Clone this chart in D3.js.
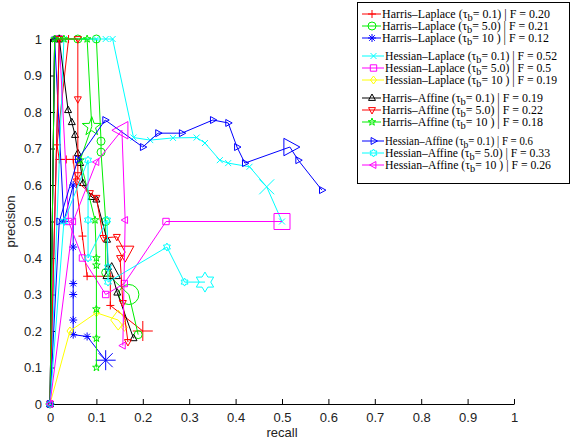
<!DOCTYPE html>
<html>
<head>
<meta charset="utf-8">
<script src="https://cdn.jsdelivr.net/npm/d3@7"></script>
<style>
  body { margin: 0; background: #fff; }
  svg { display: block; }
  .tick text { font-family: "Liberation Sans", Arial, sans-serif; font-size: 13px; fill: #222; }
</style>
</head>
<body>
<div id="chart"></div>
<script>
// recall / precision pairs for each detector
const harrisLaplace01 = [[0,0],[0.01,1],[0.04,1],[0.015,0.71],[0.02,0.67],[0.035,0.67],[0.05,0.67],[0.07,0.46],[0.08,0.35],[0.13,0.35],[0.13,0.27],[0.2,0.2]];
const harrisLaplace5 = [[0,0],[0.02,1],[0.06,1],[0.1,1],[0.11,0.72],[0.11,0.69],[0.12,0.5],[0.12,0.36],[0.17,0.3],[0.19,0.19]];
const harrisLaplace10 = [[0,0],[0.01,1],[0.03,0.5],[0.05,0.6],[0.05,0.43],[0.05,0.33],[0.05,0.3],[0.05,0.23],[0.05,0.19],[0.08,0.185],[0.12,0.12]];
const hessianLaplace01 = [[0,0],[0.03,1],[0.1,1],[0.12,1],[0.135,1],[0.18,0.73],[0.216,0.723],[0.265,0.729],[0.316,0.73],[0.334,0.715],[0.366,0.668],[0.384,0.66],[0.43,0.65],[0.467,0.595],[0.5,0.5]];
const hessianLaplace5 = [[0,0],[0.02,1],[0.04,0.5],[0.07,0.4],[0.12,0.3],[0.16,0.33],[0.25,0.5],[0.5,0.5]];
const hessianLaplace10 = [[0,0],[0.043,0.2],[0.1,0.25],[0.147,0.23],[0.16,0.21]];
const harrisAffine01 = [[0,0],[0.01,1],[0.02,1],[0.039,0.805],[0.047,0.772],[0.054,0.737],[0.06,0.687],[0.065,0.66],[0.071,0.605],[0.09,0.567],[0.1,0.56],[0.123,0.45],[0.125,0.375],[0.133,0.36],[0.145,0.305],[0.18,0.18]];
const harrisAffine5 = [[0,0],[0.02,1],[0.06,1],[0.06,0.835],[0.06,0.627],[0.058,0.61],[0.086,0.578],[0.1,0.565],[0.115,0.455],[0.144,0.458],[0.162,0.416],[0.151,0.4],[0.157,0.277],[0.168,0.17]];
const harrisAffine10 = [[0,0],[0.01,1],[0.03,1],[0.08,1],[0.09,0.76],[0.065,0.668],[0.097,0.504],[0.1,0.4],[0.1,0.38],[0.1,0.26],[0.1,0.18],[0.1,0.1]];
const hessianAffine01 = [[0,0],[0.02,0.5],[0.06,0.67],[0.119,0.778],[0.2,0.704],[0.233,0.742],[0.284,0.742],[0.351,0.778],[0.384,0.77],[0.403,0.704],[0.42,0.66],[0.517,0.704],[0.535,0.668],[0.586,0.586]];
const hessianAffine5 = [[0,0],[0.03,0.5],[0.082,0.668],[0.082,0.504],[0.082,0.4],[0.123,0.504],[0.125,0.375],[0.125,0.334],[0.252,0.43],[0.29,0.334],[0.334,0.334]];
const hessianAffine10 = [[0,0],[0.05,0.5],[0.1,0.663],[0.155,0.75],[0.162,0.504],[0.157,0.16]];

const seriesNames = ["Harris\u2013Laplace","Harris\u2013Laplace","Harris\u2013Laplace","Hessian\u2013Laplace","Hessian\u2013Laplace","Hessian\u2013Laplace","Harris\u2013Affine","Harris\u2013Affine","Harris\u2013Affine","Hessian\u2013Affine","Hessian\u2013Affine","Hessian\u2013Affine"];
const tauLabels = ["0.1","5.0","10 ","0.1","5.0","10 ","0.1","5.0","10 ","0.1","5.0","10 "];
const fScores = ["0.20","0.21","0.12","0.52","0.5","0.19","0.19","0.22","0.18","0.6","0.33","0.26"];
const bestIndex = [11, 8, 10, 13, 7, 3, 13, 10, 4, 11, 10, 3];
const allSeries = [harrisLaplace01, harrisLaplace5, harrisLaplace10, hessianLaplace01, hessianLaplace5, hessianLaplace10,
                   harrisAffine01, harrisAffine5, harrisAffine10, hessianAffine01, hessianAffine5, hessianAffine10];
const xTicks = d3.range(0, 1.01, 0.1);
const yTicks = d3.range(0, 1.01, 0.1);

const colors = ["#ff0000","#00ee00","#0000ff","#00ffff","#ff00ff","#ffff00","#000000","#ff0000","#00ee00","#0000ff","#00ffff","#ff00ff"];
const markers = ["plus","circle","star","cross","square","diamond","up","down","penta","right","hexa","left"];

const width = 571, height = 444;
const margin = {top: 39, right: 57, bottom: 40, left: 50};
const serif = "'Liberation Serif', 'Times New Roman', 'DejaVu Serif', serif";

const x = d3.scaleLinear().domain([0, 1]).range([margin.left, width - margin.right]);
const y = d3.scaleLinear().domain([0, 1]).range([height - margin.bottom, margin.top]);

const svg = d3.select("#chart").append("svg").attr("width", width).attr("height", height);

// marker outline as a path string, centred on 0,0; s = full width
function markerPath(type, s){
  const r = s / 2;
  const poly = pts => "M" + pts.map(p => p[0].toFixed(2) + "," + p[1].toFixed(2)).join("L") + "Z";
  const star = (n, ro, ri, rot) => {
    let pts = [];
    for(let i = 0; i < 2 * n; i++){
      let a = rot + i * Math.PI / n;
      let rr = i % 2 == 0 ? ro : ri;
      pts.push([rr * Math.cos(a), rr * Math.sin(a)]);
    }
    return poly(pts);
  };
  switch(type){
    case "plus": return `M${-r},0L${r},0M0,${-r}L0,${r}`;
    case "cross": return `M${-r*0.75},${-r*0.75}L${r*0.75},${r*0.75}M${-r*0.75},${r*0.75}L${r*0.75},${-r*0.75}`;
    case "star": return `M${-r},0L${r},0M0,${-r}L0,${r}M${-r*0.7},${-r*0.7}L${r*0.7},${r*0.7}M${-r*0.7},${r*0.7}L${r*0.7},${-r*0.7}`;
    case "circle": return `M${r},0A${r},${r} 0 1,1 ${-r},0A${r},${r} 0 1,1 ${r},0Z`;
    case "square": return poly([[-r*0.8,-r*0.8],[r*0.8,-r*0.8],[r*0.8,r*0.8],[-r*0.8,r*0.8]]);
    case "diamond": return poly([[0,-r],[r*0.75,0],[0,r],[-r*0.75,0]]);
    case "up": return poly([[0,-r],[r*0.87,r*0.6],[-r*0.87,r*0.6]]);
    case "down": return poly([[0,r],[r*0.87,-r*0.6],[-r*0.87,-r*0.6]]);
    case "right": return poly([[r,0],[-r*0.6,r*0.87],[-r*0.6,-r*0.87]]);
    case "left": return poly([[-r,0],[r*0.6,r*0.87],[r*0.6,-r*0.87]]);
    case "penta": return star(5, r, r * 0.4, -Math.PI / 2);
    case "hexa": return star(6, r, r * 0.58, -Math.PI / 2);
  }
}

// axes: only left and bottom, ticks pointing inwards
svg.append("g")
  .attr("transform", "translate(0," + y(0) + ")")
  .call(d3.axisBottom(x).tickValues(xTicks).tickSizeInner(-5).tickSizeOuter(0).tickPadding(9).tickFormat(d3.format("~g")))
  .call(g => g.select(".domain").attr("stroke", "#000"));

svg.append("g")
  .attr("transform", "translate(" + x(0) + ",0)")
  .call(d3.axisLeft(y).tickValues(yTicks).tickSizeInner(-5).tickSizeOuter(0).tickPadding(8).tickFormat(d3.format("~g")))
  .call(g => g.select(".domain").attr("stroke", "#000"));

svg.append("text")
  .attr("x", x(0.5)).attr("y", 437)
  .attr("text-anchor", "middle")
  .style("font-family", "Liberation Sans, Arial, sans-serif").style("font-size", "13px").style("fill", "#222")
  .text("recall");

svg.append("text")
  .attr("transform", "translate(15," + y(0.5) + ") rotate(-90)")
  .attr("text-anchor", "middle")
  .style("font-family", "Liberation Sans, Arial, sans-serif").style("font-size", "13px").style("fill", "#222")
  .text("precision");

let line = d3.line().x(d => x(d[0])).y(d => y(d[1]));

let curves = svg.append("g").attr("id", "curves");
allSeries.forEach(function(data, i){
  let g = curves.append("g");
  g.append("path")
    .attr("d", line(data))
    .attr("fill", "none")
    .attr("stroke", colors[i])
    .attr("stroke-width", 1);
  g.selectAll(".mk")
    .data(data)
    .enter()
    .append("path")
    .attr("transform", d => "translate(" + x(d[0]) + "," + y(d[1]) + ")")
    .attr("d", (d, j) => markerPath(markers[i], j == bestIndex[i] ? 20 : 8))
    .attr("fill", "none")
    .attr("stroke", colors[i])
    .attr("stroke-width", 1);
});

// legend
let legend = svg.append("g").attr("class", "legend");
legend.append("rect")
  .attr("x", 357.5).attr("y", 2.5).attr("width", 212).attr("height", 181)
  .attr("fill", "#fff").attr("stroke", "#000").attr("stroke-width", 1);

let rowY = [14, 26, 38, 56, 68, 80, 98, 110, 122, 141, 153, 165];
let rowX = [382, 382, 382, 385, 385, 385, 382, 382, 382, 385, 385, 385];
let rowW = [168, 167, 167, 172, 166, 172, 161, 161, 161, 148, 165, 166];
seriesNames.forEach(function(name, i){
  let ly = rowY[i];
  legend.append("line")
    .attr("x1", 362).attr("x2", rowX[i] - 1).attr("y1", ly).attr("y2", ly)
    .attr("stroke", colors[i]);
  legend.append("path")
    .attr("transform", "translate(" + ((362 + rowX[i]) / 2) + "," + ly + ")")
    .attr("d", markerPath(markers[i], 8))
    .attr("fill", "none").attr("stroke", colors[i]);
  let t = legend.append("text").attr("x", rowX[i]).attr("y", ly + 4)
    .attr("textLength", rowW[i]).attr("lengthAdjust", "spacingAndGlyphs")
    .style("font-family", serif).style("font-size", "12.5px").style("fill", "#000");
  t.append("tspan").text(name + " (\u03c4");
  t.append("tspan").attr("dy", 3).style("font-size", "11px").text("b");
  t.append("tspan").attr("dy", -3).text("= " + tauLabels[i] + ") | F = " + fScores[i]);
});
</script>
</body>
</html>
